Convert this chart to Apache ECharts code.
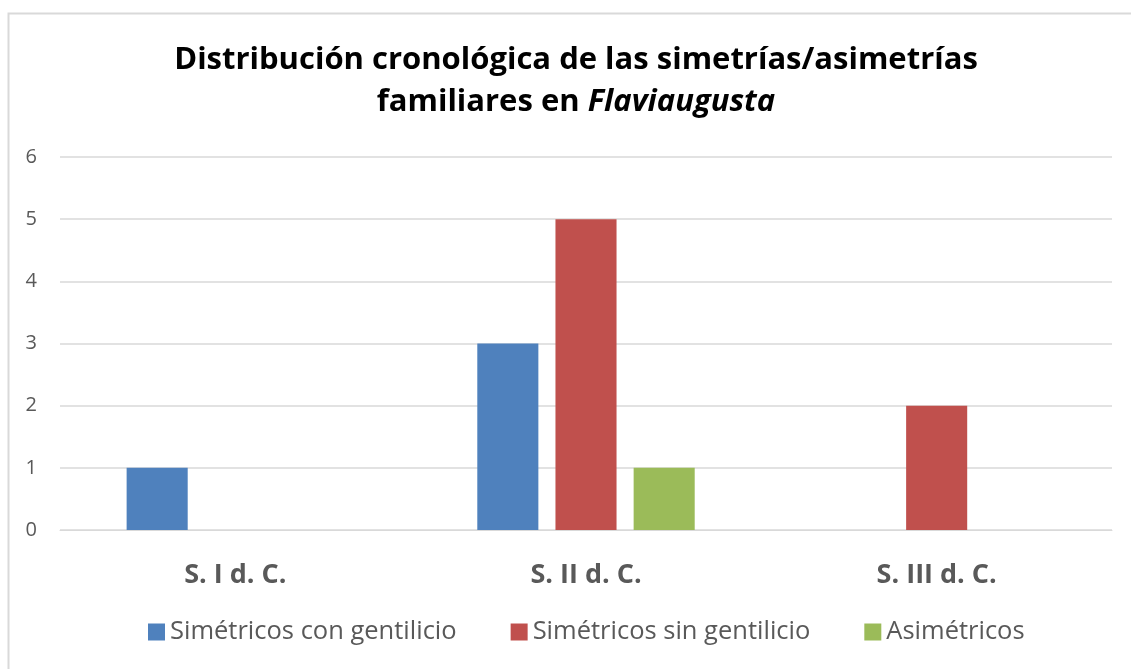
<!DOCTYPE html>
<html lang="es">
<head>
  <meta charset="UTF-8">
  <title>Distribución cronológica</title>
  <style>
    html, body { margin: 0; padding: 0; background: #fff; }
  </style>
  <script src="https://cdn.jsdelivr.net/npm/echarts@6/dist/echarts.min.js"></script>
</head>
<body>
<div id="chart" style="width: 1131px; height: 669px;"></div>
<script>
  // datos
  const periodos = ['S. I d. C.', 'S. II d. C.', 'S. III d. C.']
  const conGentilicio = [1, 3, null]
  const sinGentilicio = [null, 5, 2]
  const asimetricos = [null, 1, null]

  const chart = echarts.init(document.getElementById('chart'))
  const font = 'Open Sans'

  let option = {
    textStyle: { fontFamily: font },
    title: {
      left: 571,
      textAlign: 'center',
      top: 34,
      text: '{b|Distribución cronológica de las simetrías/asimetrías}\n{b|familiares en }{i|Flaviaugusta}',
      textStyle: {
        rich: {
          b: { fontFamily: font, fontSize: 31, fontWeight: 'bold', color: '#000', lineHeight: 42 },
          i: { fontFamily: font, fontSize: 31, fontWeight: 'bold', fontStyle: 'italic', color: '#000', lineHeight: 42 }
        }
      }
    },
    graphic: [{
      type: 'rect',
      shape: { x: 8.5, y: 13.5, width: 1200, height: 700 },
      style: { fill: 'none', stroke: '#d9d9d9', lineWidth: 2 },
      silent: true
    }],
    grid: { left: 60, right: 19, top: 157, bottom: 139 },
    legend: {
      bottom: 19,
      left: 143,
      itemWidth: 17,
      itemHeight: 17,
      itemGap: 54,
      icon: 'rect',
      textStyle: { fontSize: 25.5, color: '#595959', fontFamily: font },
      data: ['Simétricos con gentilicio', 'Simétricos sin gentilicio', 'Asimétricos']
    },
    xAxis: {
      type: 'category',
      data: periodos,
      axisLine: { lineStyle: { color: '#d9d9d9', width: 1 } },
      axisTick: { show: false },
      axisLabel: { fontSize: 27, fontWeight: 'bold', color: '#595959', margin: 32 }
    },
    yAxis: {
      type: 'value',
      min: 0,
      max: 6,
      interval: 1,
      axisLabel: { fontSize: 20, color: '#595959', margin: 23 },
      splitLine: { lineStyle: { color: '#d9d9d9', width: 1.5 } },
      axisLine: { show: false }
    },
    series: [
      { name: 'Simétricos con gentilicio', type: 'bar', data: conGentilicio, itemStyle: { color: '#4F81BD' }, barGap: '28%', barCategoryGap: '38%' },
      { name: 'Simétricos sin gentilicio', type: 'bar', data: sinGentilicio, itemStyle: { color: '#C0504D' } },
      { name: 'Asimétricos', type: 'bar', data: asimetricos, itemStyle: { color: '#9BBB59' } }
    ],
    animation: false
  }
  chart.setOption(option)
</script>
</body>
</html>
